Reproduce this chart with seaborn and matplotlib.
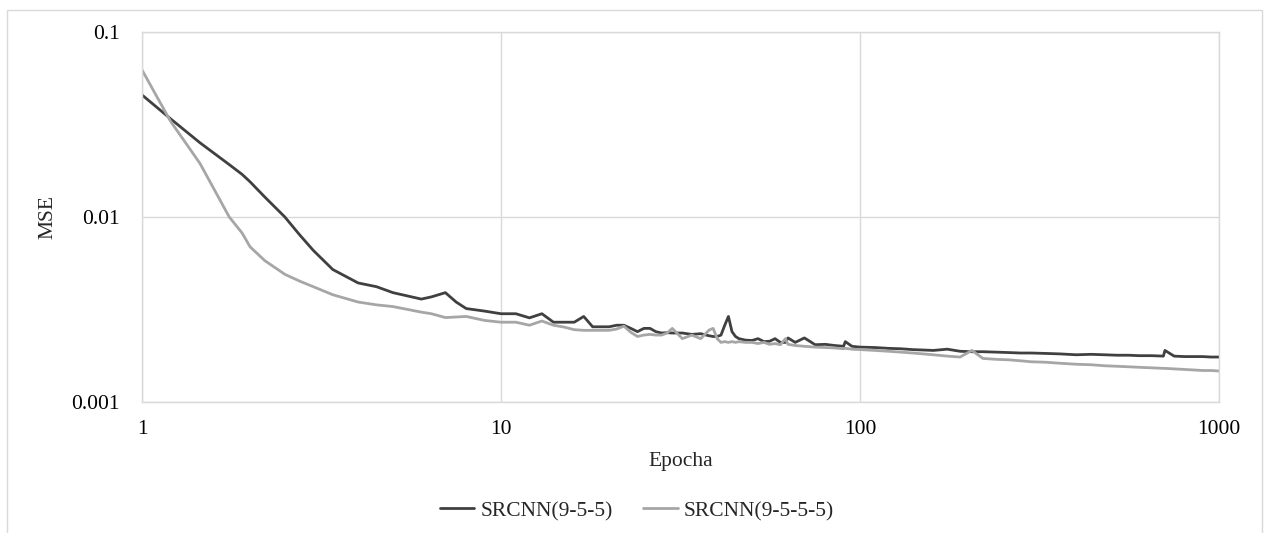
import numpy as np
import pandas as pd
import matplotlib
matplotlib.use("Agg")
import matplotlib.pyplot as plt
from matplotlib.patches import Rectangle
from matplotlib.lines import Line2D
import seaborn as sns

# ---------------- data ----------------
epochs = [
    1, 1.2, 1.45, 1.75, 1.9, 2, 2.2, 2.5, 2.75, 3, 3.4, 4, 4.5,
    5, 6, 6.4, 7, 7.5, 8, 9, 10,
    11, 12, 13, 14, 15, 16, 17, 18, 19, 20,
    21, 22, 23, 24, 25, 26, 27, 28, 29, 30,
    32, 34, 36, 38, 39, 40, 41, 42, 43, 44,
    45, 46, 48, 50, 52, 54, 56, 58, 60, 62,
    63, 66, 70, 75, 80, 85, 90, 91, 95, 100,
    110, 120, 130, 140, 150, 160, 175, 190, 205, 220,
    240, 260, 280, 300, 330, 360, 400, 440, 480, 520,
    560, 600, 650, 700, 707, 750, 800, 850, 900, 950,
    1000]

mse_955 = [
    0.0457, 0.0340, 0.0252, 0.0192, 0.0170, 0.0155, 0.0128, 0.0100, 0.0080, 0.0066, 0.0052, 0.0044, 0.0042,
    0.0039, 0.0036, 0.0037, 0.0039, 0.00347, 0.0032, 0.0031, 0.0030,
    0.0030, 0.00285, 0.0030, 0.0027, 0.0027, 0.0027, 0.0029, 0.00255, 0.00255, 0.00255,
    0.0026, 0.0026, 0.0025, 0.0024, 0.0025, 0.0025, 0.0024, 0.00236, 0.00237, 0.00236,
    0.00236, 0.00232, 0.00234, 0.00228, 0.00226, 0.00226, 0.0023, 0.0026, 0.0029, 0.0024,
    0.00226, 0.0022, 0.00216, 0.00215, 0.0022, 0.00212, 0.00213, 0.0022, 0.0021, 0.0021,
    0.00222, 0.0021, 0.00222, 0.00204, 0.00205, 0.00202, 0.0020, 0.00212, 0.0020, 0.00198,
    0.00197, 0.00195, 0.00194, 0.00192, 0.00191, 0.0019, 0.00193, 0.00188, 0.00187, 0.00187,
    0.00186, 0.00185, 0.00184, 0.00184, 0.00183, 0.00182, 0.0018, 0.00181, 0.0018, 0.00179,
    0.00179, 0.00178, 0.00178, 0.00177, 0.0019, 0.00177, 0.00176, 0.00176, 0.00176, 0.00175,
    0.00175]

mse_9555 = [
    0.0624, 0.0330, 0.0195, 0.0100, 0.0082, 0.0069, 0.0058, 0.0049, 0.0045, 0.0042, 0.0038, 0.00347, 0.00335,
    0.00328, 0.00306, 0.0030, 0.00286, 0.00288, 0.0029, 0.00276, 0.0027,
    0.0027, 0.0026, 0.00274, 0.0026, 0.00254, 0.00246, 0.00244, 0.00244, 0.00244, 0.00244,
    0.00248, 0.00257, 0.00238, 0.00226, 0.0023, 0.00232, 0.0023, 0.0023, 0.00236, 0.0025,
    0.0022, 0.0023, 0.0022, 0.00245, 0.0025, 0.0022, 0.0021, 0.00212, 0.0021, 0.00212,
    0.0021, 0.00212, 0.0021, 0.0021, 0.00207, 0.0021, 0.00205, 0.00207, 0.00204, 0.0022,
    0.00205, 0.00202, 0.0020, 0.00198, 0.00197, 0.00196, 0.00194, 0.00195, 0.00193, 0.00192,
    0.0019, 0.00188, 0.00186, 0.00184, 0.00182, 0.0018, 0.00177, 0.00175, 0.0019, 0.00172,
    0.0017, 0.00169, 0.00167, 0.00165, 0.00164, 0.00162, 0.0016, 0.00159, 0.00157, 0.00156,
    0.00155, 0.00154, 0.00153, 0.00152, 0.00152, 0.00151, 0.0015, 0.00149, 0.00148, 0.00148,
    0.00147]

series_names = ["SRCNN(9-5-5)", "SRCNN(9-5-5-5)"]
series_colors = ["#404040", "#a6a6a6"]
x_ticks = [1, 10, 100, 1000]
x_tick_labels = ["1", "10", "100", "1000"]
y_ticks = [0.001, 0.01, 0.1]
y_tick_labels = ["0.001", "0.01", "0.1"]

# ---------------- figure ----------------
sns.set_style("white")
plt.rcParams["font.family"] = ["Liberation Serif", "DejaVu Serif"]

df = pd.concat([
    pd.DataFrame({"Epocha": epochs, "MSE": mse_955, "Serie": series_names[0]}),
    pd.DataFrame({"Epocha": epochs, "MSE": mse_9555, "Serie": series_names[1]}),
])

fig = plt.figure(figsize=(12.69, 5.33), dpi=100)
ax = fig.add_axes([142 / 1269, 1 - 402 / 533, (1219 - 142) / 1269, (402 - 32) / 533])

# outer chart border
fig.patches.append(Rectangle((7 / 1269, -0.2), (1262 - 7) / 1269, 1.2 - 10 / 533,
                             transform=fig.transFigure, fill=False,
                             edgecolor="#d9d9d9", linewidth=1.0, zorder=0))

sns.lineplot(data=df, x="Epocha", y="MSE", hue="Serie",
             palette=dict(zip(series_names, series_colors)),
             linewidth=2.0, ax=ax, legend=False, estimator=None, sort=True)
for ln in ax.get_lines():
    ln.set_solid_joinstyle("round")

ax.set_xscale("log")
ax.set_yscale("log")
ax.set_xlim(1, 1000)
ax.set_ylim(0.001, 0.1)
ax.set_xticks(x_ticks)
ax.set_xticklabels(x_tick_labels)
ax.set_yticks(y_ticks)
ax.set_yticklabels(y_tick_labels)
ax.minorticks_off()
ax.tick_params(axis="both", length=0, labelsize=15.5, colors="black")
ax.tick_params(axis="x", pad=13)
ax.tick_params(axis="y", pad=16)
ax.grid(True, which="major", color="#d9d9d9", linewidth=1.0)
ax.set_axisbelow(True)
for sp in ax.spines.values():
    sp.set_visible(True)
    sp.set_color("#d9d9d9")
    sp.set_linewidth(1.0)

ax.set_xlabel("Epocha", fontsize=15.5, labelpad=9)
ax.set_ylabel("MSE", fontsize=15.5, labelpad=10)

handles = [Line2D([0], [0], color=c, linewidth=2.0) for c in series_colors]
fig.legend(handles, series_names, loc="center", bbox_to_anchor=(637 / 1269, 1 - 511 / 533),
           ncol=2, frameon=False, fontsize=15.5, handlelength=1.6,
           handletextpad=0.3, columnspacing=1.4)

fig.savefig("out.png", dpi=100, facecolor="white")
